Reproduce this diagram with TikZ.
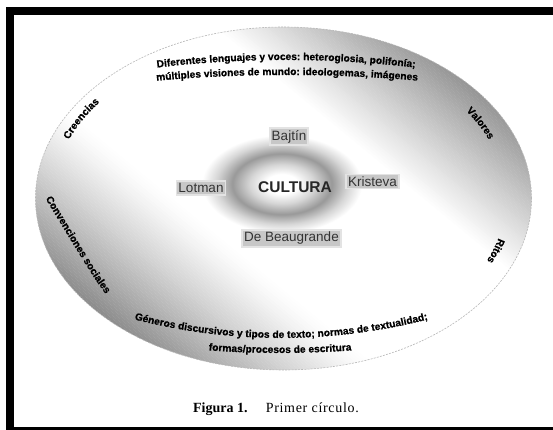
\documentclass[tikz,border=0pt]{standalone}
\usepackage{fontspec}
\newfontfamily\arialf{Liberation Sans}
\newfontfamily\heavyf{Liberation Sans}[BoldFeatures={FakeBold=0.8}]
\newfontfamily\capf{Liberation Serif}
\usetikzlibrary{decorations.text}
\newcommand\myouterfont{\heavyf\bfseries\fontsize{10.2}{12}\selectfont\color{black}}
\pgfdeclareradialshading{ringshade}{\pgfpoint{0bp}{0bp}}{color(0bp)=(white); color(5bp)=(white); color(10bp)=(black!16); color(15.5bp)=(black!40); color(20.5bp)=(black!16); color(25bp)=(white); color(50bp)=(white)}
\tikzset{
  lab/.style={fill=black!22, draw=black!11, line width=1.8pt, text=black!80, inner xsep=2pt, inner ysep=2pt,
    font=\arialf\fontsize{13.5}{15}\selectfont},
  cult/.style={text=black!85, inner sep=1pt, font=\arialf\bfseries\fontsize{15.5}{17}\selectfont},
  bar/.style={fill=black, draw=none},
  curved/.style={decorate, decoration={text along path, text align=center, text={|\myouterfont|#1}}},
  curvedl/.style={decorate, decoration={text along path, text={|\myouterfont|#1}}}
}
\begin{document}
\begin{tikzpicture}[x=1pt,y=1pt]
\useasboundingbox (0,0) rectangle (553,430);
\fill[white] (0,0) rectangle (553,430);
% frame
\fill[bar] (6,0) rectangle (14,423);
\fill[bar] (6,415) rectangle (553,423);
\fill[bar] (6,0) rectangle (553,2.5);
% outer ellipse with two grey lobes
\coordinate (C) at (283.5,231.5);
\begin{scope}
  \clip (C) ellipse[x radius=248, y radius=171.5];
  \fill[white] (C) ellipse[x radius=248, y radius=171.5];
  \begin{scope}[shift={(283.5,231.5)}, xscale=248, yscale=171.5]
    \foreach \q in {-1.04,-1.028,...,-0.34} {
      \pgfmathsetmacro\g{45*(max(0,min(1,(-\q-0.35)/0.65)))^1.2}
      \fill[black!\g, rotate=40] (\q,-1.3) rectangle (\q+0.013,1.3);
    }
    \foreach \q in {0.41,0.422,...,1.05} {
      \pgfmathsetmacro\g{42*(max(0,min(1,(\q-0.42)/0.58)))^1.05}
      \fill[black!\g, rotate=40] (\q,-1.3) rectangle (\q+0.013,1.3);
    }
  \end{scope}
\end{scope}
\draw[black!28, line width=0.6pt, dash pattern=on 2pt off 1.2pt] (C) ellipse[x radius=248, y radius=171.5];
% inner ring
\coordinate (R) at (282,246);
\shade[shading=ringshade] (R) ellipse[x radius=80, y radius=49];
% inner labels
\node[cult] (cultura) at (295,243) {CULTURA};
\node[lab] (bajtin) at (289,293.5) {Bajtín};
\node[lab] (lotman) at (201,242) {Lotman};
\node[lab] (kristeva) at (372.5,248.5) {Kristeva};
\node[lab] (beau) at (291.5,191.5) {De Beaugrande};
% outer curved texts
\path[curved={Diferentes lenguajes y voces: heteroglosia, polifonía;}]
  (132.9,359.3) arc[start angle=98, end angle=82, radius=1100];
\path[curved={múltiples visiones de mundo: ideologemas, imágenes}]
  (130.2,346.8) arc[start angle=96, end angle=84, radius=1500];
\path[curved={Géneros discursivos y tipos de texto; normas de textualidad;}]
  (98.1,121.0) arc[start angle=252, end angle=288, radius=592];
\path[curved={formas/procesos de escritura}]
  (106.4,92.2) arc[start angle=260, end angle=280, radius=1000];
\path[curved={Creencias}]
  (60.4,272.7) arc[start angle=165, end angle=137, x radius=231, y radius=159];
\path[curved={Valores}]
  (443.6,338.0) arc[start angle=44, end angle=12, x radius=222, y radius=153.5];
\path[curved={Ritos}]
  (505.9,224.0) arc[start angle=-3, end angle=-35, x radius=222.5, y radius=153.9];
\path[curvedl={Convenciones sociales}]
  (45.5,231.3) .. controls (96.9,146.5) .. (121,116.6);
% caption
\node[anchor=base, font=\capf\fontsize{14}{16}\selectfont] (cap) at (276,17)
  {\textbf{Figura 1.}\hspace{1.3em}{\addfontfeature{LetterSpace=5}Primer círculo.}};
\end{tikzpicture}
\end{document}
